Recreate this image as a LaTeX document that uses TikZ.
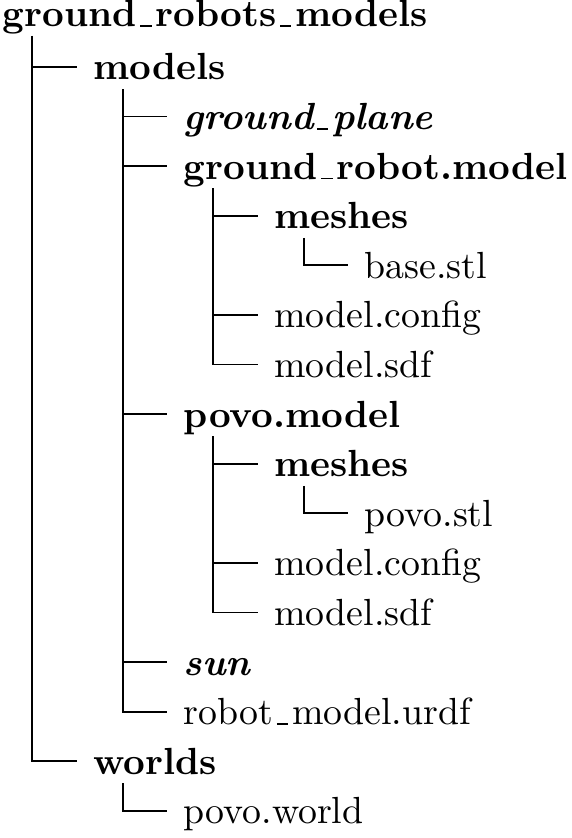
\documentclass[tikz,border=0pt]{standalone}
\newcommand{\usc}{\leavevmode\kern.1em\vbox{\hrule width.3em}\kern.1em}
\tikzstyle{entry} = [anchor=base west, inner xsep=4.1pt, inner ysep=0pt,
    text height=9.1pt, text depth=2.2pt]
\tikzstyle{dir} = [entry, font=\bfseries]
\tikzstyle{world} = [entry, font=\bfseries\itshape]
\tikzstyle{file} = [entry]
\tikzstyle{line} = [draw, line width=0.5pt]

\begin{document}
\begin{tikzpicture}[x=23.94pt, y=-13.12pt]
	\useasboundingbox (3.57pt,8.04pt) rectangle (154.63pt,-213.65pt);

	\node [dir] (root) at (0,-0.07) {ground\usc robots\usc models};
	\node [dir] (models) at (1,1) {models};
	\node [world] (plane) at (2,2) {ground\usc plane};
	\node [dir] (robot) at (2,3) {ground\usc robot.model};
	\node [dir] (robotmeshes) at (3,4) {meshes};
	\node [file] (basestl) at (4,5) {base.stl};
	\node [file] (robotconfig) at (3,6) {model.config};
	\node [file] (robotsdf) at (3,7) {model.sdf};
	\node [dir] (povo) at (2,8) {povo.model};
	\node [dir] (povomeshes) at (3,9) {meshes};
	\node [file] (povostl) at (4,10) {povo.stl};
	\node [file] (povoconfig) at (3,11) {model.config};
	\node [file] (povosdf) at (3,12) {model.sdf};
	\node [world] (sun) at (2,13) {sun};
	\node [file] (urdf) at (2,14) {robot\usc model.urdf};
	\node [dir] (worlds) at (1,15) {worlds};
	\node [file] (povoworld) at (2,16) {povo.world};

	\path [line] ([xshift=12.1pt]root.south west) |- (models.west);
	\path [line] ([xshift=12.1pt]root.south west) |- (worlds.west);

	\path [line] ([xshift=12.1pt]models.south west) |- (plane.west);
	\path [line] ([xshift=12.1pt]models.south west) |- (robot.west);
	\path [line] ([xshift=12.1pt]models.south west) |- (povo.west);
	\path [line] ([xshift=12.1pt]models.south west) |- (sun.west);
	\path [line] ([xshift=12.1pt]models.south west) |- (urdf.west);

	\path [line] ([xshift=12.1pt]robot.south west) |- (robotmeshes.west);
	\path [line] ([xshift=12.1pt]robot.south west) |- (robotconfig.west);
	\path [line] ([xshift=12.1pt]robot.south west) |- (robotsdf.west);
	\path [line] ([xshift=12.1pt]robotmeshes.south west) |- (basestl.west);

	\path [line] ([xshift=12.1pt]povo.south west) |- (povomeshes.west);
	\path [line] ([xshift=12.1pt]povo.south west) |- (povoconfig.west);
	\path [line] ([xshift=12.1pt]povo.south west) |- (povosdf.west);
	\path [line] ([xshift=12.1pt]povomeshes.south west) |- (povostl.west);

	\path [line] ([xshift=12.1pt]worlds.south west) |- (povoworld.west);
\end{tikzpicture}
\end{document}
